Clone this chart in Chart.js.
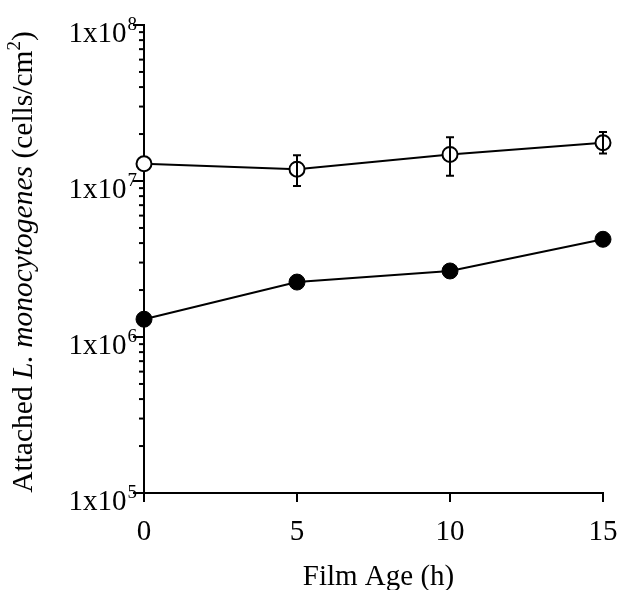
<!DOCTYPE html>
<html>
<head>
<meta charset="utf-8">
<script src="https://cdn.jsdelivr.net/npm/chart.js@4.4.1/dist/chart.umd.min.js"></script>
<style>
  html, body { margin: 0; padding: 0; background: #fff; }
  #wrap { width: 618px; height: 590px; }
</style>
</head>
<body>
<div id="wrap"><canvas id="c" width="618" height="590"></canvas></div>
<script>
// Film age (h)
const hours = [0, 5, 10, 15];
// Open symbols: mean and error-bar limits (cells/cm2)
const openMeans = [1.29e7, 1.19e7, 1.48e7, 1.76e7];
const openLow   = [null, 0.93e7, 1.08e7, 1.50e7];
const openHigh  = [null, 1.46e7, 1.91e7, 2.06e7];
// Filled symbols: mean (cells/cm2)
const filledMeans = [1.30e6, 2.25e6, 2.65e6, 4.23e6];
// Axis ticks
const xTickValues = [0, 5, 10, 15];
const yDecadeExponents = [5, 6, 7, 8];

const SERIF = '"Liberation Serif", "DejaVu Serif", serif';
const INK = '#000';

// error bars for the open-symbol series
const errorBars = {
  id: 'errorBars',
  afterDatasetsDraw(chart) {
    const { ctx, scales: { x, y } } = chart;
    ctx.save();
    ctx.strokeStyle = INK;
    ctx.lineWidth = 2;
    hours.forEach((h, i) => {
      if (openLow[i] == null || openHigh[i] == null) return;
      const px = x.getPixelForValue(h);
      const yl = y.getPixelForValue(openLow[i]);
      const yh = y.getPixelForValue(openHigh[i]);
      ctx.beginPath();
      ctx.moveTo(px, yl); ctx.lineTo(px, yh);
      ctx.moveTo(px - 4, yl); ctx.lineTo(px + 4, yl);
      ctx.moveTo(px - 4, yh); ctx.lineTo(px + 4, yh);
      ctx.stroke();
    });
    ctx.restore();
  }
};

// tick marks, tick labels and axis titles
const axisDecor = {
  id: 'axisDecor',
  afterDraw(chart) {
    const { ctx, chartArea, scales: { x, y } } = chart;
    ctx.save();
    ctx.strokeStyle = INK;
    ctx.fillStyle = INK;
    ctx.lineWidth = 2;

    // y ticks: majors at decades, minors at 2..9
    const left = chartArea.left;
    yDecadeExponents.forEach((e) => {
      const base = Math.pow(10, e);
      const py = y.getPixelForValue(base);
      ctx.beginPath(); ctx.moveTo(left - 11, py); ctx.lineTo(left, py); ctx.stroke();
      if (e < yDecadeExponents[yDecadeExponents.length - 1]) {
        for (let m = 2; m <= 9; m++) {
          const my = y.getPixelForValue(base * m);
          ctx.beginPath(); ctx.moveTo(left - 5, my); ctx.lineTo(left, my); ctx.stroke();
        }
      }
      // label "1x10" with superscript exponent
      ctx.textBaseline = 'alphabetic';
      ctx.textAlign = 'right';
      ctx.font = '19px ' + SERIF;
      const supW = ctx.measureText(String(e)).width;
      const supRight = left - 7;
      ctx.fillText(String(e), supRight, py + 5);
      ctx.font = '29px ' + SERIF;
      ctx.fillText('1x10', supRight - supW - 1, py + 17);
    });

    // x ticks
    const bottom = chartArea.bottom;
    ctx.textAlign = 'center';
    ctx.font = '29px ' + SERIF;
    xTickValues.forEach((v) => {
      const px = x.getPixelForValue(v);
      ctx.beginPath(); ctx.moveTo(px, bottom); ctx.lineTo(px, bottom + 9); ctx.stroke();
      ctx.fillText(String(v), px, bottom + 47);
    });

    // x title
    ctx.font = '29px ' + SERIF;
    ctx.fillText('Film Age (h)', (chartArea.left + chartArea.right) / 2 + 5, 585);

    // y title (rotated, mixed styles)
    const parts = [
      { t: 'Attached ', f: '29.5px ' + SERIF, dy: 0 },
      { t: 'L. monocytogenes', f: 'italic 29.5px ' + SERIF, dy: 0 },
      { t: ' (cells/cm', f: '29.5px ' + SERIF, dy: 0 },
      { t: '2', f: '19px ' + SERIF, dy: -12 },
      { t: ')', f: '29.5px ' + SERIF, dy: 0 }
    ];
    let total = 0;
    parts.forEach(p => { ctx.font = p.f; p.w = ctx.measureText(p.t).width; total += p.w; });
    ctx.translate(32, 262);
    ctx.rotate(-Math.PI / 2);
    ctx.textAlign = 'left';
    let cx = -total / 2;
    parts.forEach(p => { ctx.font = p.f; ctx.fillText(p.t, cx, p.dy); cx += p.w; });
    ctx.restore();
  }
};

new Chart(document.getElementById('c'), {
  type: 'line',
  data: {
    labels: hours,
    datasets: [
      {
        label: 'open',
        data: hours.map((h, i) => ({ x: h, y: openMeans[i] })),
        borderColor: INK,
        borderWidth: 2,
        pointRadius: 7.5,
        pointBorderWidth: 2,
        pointBackgroundColor: '#fff',
        pointBorderColor: INK,
        tension: 0,
        clip: false
      },
      {
        label: 'filled',
        data: hours.map((h, i) => ({ x: h, y: filledMeans[i] })),
        borderColor: INK,
        borderWidth: 2,
        pointRadius: 8,
        pointBorderWidth: 1,
        pointBackgroundColor: INK,
        pointBorderColor: INK,
        tension: 0,
        clip: false
      }
    ]
  },
  options: {
    responsive: false,
    animation: false,
    layout: { padding: { left: 136, right: 15, top: 25, bottom: 89 } },
    plugins: { legend: { display: false }, tooltip: { enabled: false } },
    scales: {
      x: {
        type: 'linear', min: 0, max: 15,
        grid: { display: false },
        ticks: { display: false },
        border: { display: true, color: INK, width: 2 }
      },
      y: {
        type: 'logarithmic', min: 1e5, max: 1e8,
        grid: { display: false },
        ticks: { display: false },
        border: { display: true, color: INK, width: 2 }
      }
    }
  },
  plugins: [errorBars, axisDecor]
});
</script>
</body>
</html>
